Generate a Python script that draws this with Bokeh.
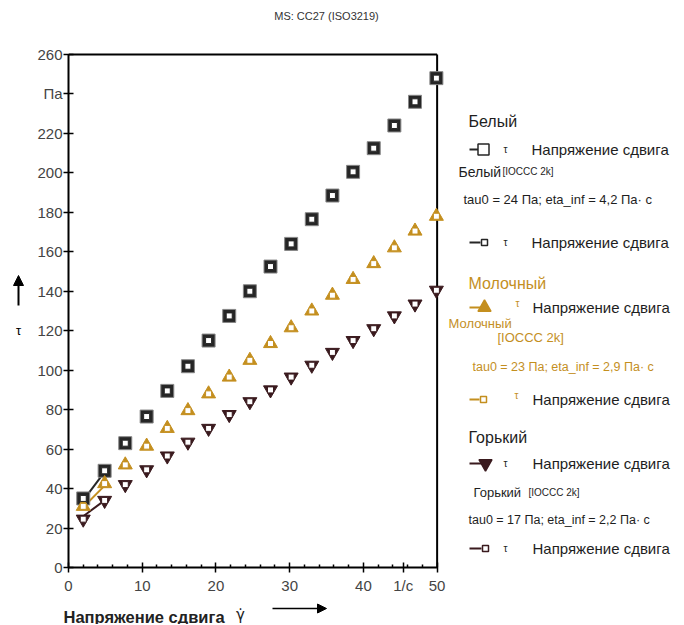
from bokeh.plotting import figure
from bokeh.models import Range1d, Label, Arrow, NormalHead, SingleIntervalTicker, FixedTicker
from bokeh.layouts import row, column
from bokeh.embed import file_html
from bokeh.resources import INLINE

# ---------------- data ----------------
shear_rate = [2.0, 4.9, 7.7, 10.6, 13.4, 16.2, 19.0, 21.8, 24.6, 27.4,
              30.2, 33.0, 35.8, 38.6, 41.4, 44.2, 47.0, 49.9]
tau_white = [35, 49, 63, 76.5, 89.5, 102, 115, 127.5, 140, 152.5,
             164, 176.5, 188.5, 200.5, 212.5, 224, 236, 248]
tau_milk = [31, 42.5, 52, 61.5, 70.5, 79.5, 88, 96.5, 105, 113.5,
            121.5, 130, 138, 146, 154, 162, 170.5, 178]
tau_dark = [24.5, 34, 42, 49.5, 56.5, 63.5, 70.5, 77.5, 84, 90,
            96.5, 102.5, 109, 115, 121, 127.5, 133.5, 140.5]
fit_rate = [2.0, 4.9]
fit_white = [34, 48.5]
fit_milk = [30.5, 41.5]
fit_dark = [26, 34]

series_names = ["Белый", "Молочный", "Горький"]
fit_params = ["tau0 = 24 Па; eta_inf = 4,2 Па· с",
              "tau0 = 23 Па; eta_inf = 2,9 Па· с",
              "tau0 = 17 Па; eta_inf = 2,2 Па· с"]
x_major_ticks = [0, 10, 20, 30, 40, 45.4, 50]
x_minor_ticks = [2, 4, 6, 8, 12, 14, 16, 18, 22, 24, 26, 28, 32, 34, 36, 38, 42, 44, 46, 48]
x_tick_overrides = {45.4: "1/с"}
y_tick_overrides = {240: "Па"}
title_text = "MS: CC27 (ISO3219)"
x_label = "Напряжение сдвига"
y_label = "τ"
row_label = "Напряжение сдвига"

C_WHITE = "#262626"
C_MILK = "#c48f1f"
C_DARK = "#3a1a1e"
FONT = "Liberation Sans"
TXT = "#1e1e1e"

TOP_H = 44
MID_H = 553
BOT_H = 27
LEFT_W = 30
MAIN_W = 418
LEG_W = 684 - LEFT_W - MAIN_W
B_TOP = 6
B_BOT = 30


def panel(w, h, bt=0, bb=0):
    f = figure(width=w, height=h, x_range=Range1d(0, w), y_range=Range1d(h - bb, bt),
               output_backend="svg", toolbar_location=None,
               min_border_left=0, min_border_right=0, min_border_top=bt, min_border_bottom=bb)
    f.outline_line_color = None
    f.xaxis.visible = False
    f.yaxis.visible = False
    f.xgrid.visible = False
    f.ygrid.visible = False
    return f


def label(f, x, y, s, size="15px", color=TXT, font=FONT, style="normal", align="left"):
    f.add_layout(Label(x=x, y=y, text=s, text_font=font, text_font_size=size,
                       text_font_style=style, text_color=color,
                       text_align=align, text_baseline="middle"))


# ---------------- main plot ----------------
p = figure(width=MAIN_W, height=MID_H, x_range=Range1d(0, 51), y_range=Range1d(0, 262),
           output_backend="svg", toolbar_location=None,
           min_border_left=38, min_border_right=4, min_border_top=B_TOP, min_border_bottom=B_BOT)
p.outline_line_color = None
p.xgrid.visible = False
p.ygrid.visible = False

p.xaxis.ticker = FixedTicker(ticks=x_major_ticks, minor_ticks=x_minor_ticks)
p.yaxis.ticker = SingleIntervalTicker(interval=20, num_minor_ticks=0)
p.xaxis.bounds = (0, 50)
p.yaxis.bounds = (0, 260)
for ax in (p.xaxis, p.yaxis):
    ax.axis_line_width = 2
    ax.axis_line_color = "black"
    ax.major_tick_line_width = 1.5
    ax.major_tick_line_color = "black"
    ax.major_tick_in = 5
    ax.major_tick_out = 5
    ax.major_label_text_font = FONT
    ax.major_label_text_font_size = "15px"
    ax.major_label_text_color = "#444444"
p.xaxis.minor_tick_in = 3
p.xaxis.minor_tick_out = 0
p.xaxis.minor_tick_line_width = 1.5
p.xaxis.minor_tick_line_color = "black"
p.yaxis.minor_tick_line_color = None
p.yaxis.major_label_standoff = 1
p.xaxis.major_label_standoff = 4
p.xaxis.major_label_overrides = x_tick_overrides
p.yaxis.major_label_overrides = y_tick_overrides

# frame top / right border
p.segment(x0=[0, 50], y0=[260, 0], x1=[50, 50], y1=[260, 260],
          line_color="black", line_width=2)

# fitted lines
p.line(fit_rate, fit_white, line_color=C_WHITE, line_width=2)
p.line(fit_rate, fit_milk, line_color=C_MILK, line_width=2)
p.line(fit_rate, fit_dark, line_color=C_DARK, line_width=2)

# measured markers
p.scatter(shear_rate, tau_white, marker="square", size=13,
          fill_color=C_WHITE, line_color="#888888", line_width=1)
p.scatter(shear_rate, tau_milk, marker="triangle", size=14,
          fill_color=C_MILK, line_color=C_MILK, line_width=1)
p.scatter(shear_rate, tau_dark, marker="inverted_triangle", size=14,
          fill_color=C_DARK, line_color=C_DARK, line_width=1)
# model markers (small open squares)
for ys, c in ((tau_white, C_WHITE), (tau_milk, C_MILK), (tau_dark, C_DARK)):
    p.scatter(shear_rate, ys, marker="square", size=6,
              fill_color="white", line_color=c, line_width=1)

# ---------------- top strip (title) ----------------
top = panel(684, TOP_H)
label(top, 326, 15, title_text, size="11px", color="#333333", align="center")

# ---------------- left strip (y label) ----------------
left = panel(LEFT_W, MID_H, B_TOP, B_BOT)
label(left, 18, 330 - TOP_H, y_label, size="13px", color="black", align="center")
left.add_layout(Arrow(x_start=18, y_start=305 - TOP_H, x_end=18, y_end=275 - TOP_H,
                      line_width=2, line_color="black",
                      end=NormalHead(size=10, fill_color="black", line_color="black")))

# ---------------- bottom strip (x label) ----------------
bot_y0 = TOP_H + MID_H
bot = panel(684, BOT_H)
label(bot, 63, 616 - bot_y0, x_label, size="16.5px", color="#222222", style="bold")
label(bot, 240, 614 - bot_y0, "γ̇", size="15px", color="#222222", font="DejaVu Sans",
      align="center")
bot.add_layout(Arrow(x_start=272, y_start=608 - bot_y0, x_end=326, y_end=608 - bot_y0,
                     line_width=1.5, line_color="black",
                     end=NormalHead(size=9, fill_color="black", line_color="black")))

# ---------------- legend panel ----------------
q = panel(LEG_W, MID_H, B_TOP, B_BOT)
X0 = MAIN_W + LEFT_W   # page x of legend panel


def lx(px):
    return px - X0


def ly(py):
    return py - TOP_H


def txt(px, py, s, size="15px", color=TXT):
    label(q, lx(px), ly(py), s, size=size, color=color)


def row_item(py, color, marker, msize, fill, pxm, pytau=None, pxtau=503, pxt=531, tau_color=TXT):
    q.line([lx(469), lx(pxm - 4)], [ly(py), ly(py)], line_color=color, line_width=2)
    q.scatter([lx(pxm)], [ly(py)], marker=marker, size=msize, fill_color=fill,
              line_color=color, line_width=1.5)
    txt(pxtau, py if pytau is None else pytau, y_label, size="10px", color=tau_color)
    txt(pxt, py, row_label, size="15px", color=TXT)


# Белый
txt(468, 121, series_names[0], size="16px")
row_item(149, C_WHITE, "square", 11, "white", 483)
txt(458, 171, series_names[0], size="14px")
txt(502, 171, "[IOCCC 2k]", size="10px")
txt(463, 199, fit_params[0], size="13px")
row_item(242, C_WHITE, "square", 6, "white", 484)

# Молочный
txt(468, 283, series_names[1], size="16px", color=C_MILK)
row_item(307, C_MILK, "triangle", 13, C_MILK, 484, pytau=303, pxtau=515, pxt=532, tau_color=C_MILK)
txt(448, 323, series_names[1], size="13px", color=C_MILK)
txt(497, 337, "[IOCCC 2k]", size="13px", color=C_MILK)
txt(472, 366, fit_params[1], size="12.5px", color=C_MILK)
row_item(399, C_MILK, "square", 6, "white", 483, pytau=395, pxtau=514, pxt=532, tau_color=C_MILK)

# Горький
txt(468, 437, series_names[2], size="16px")
row_item(463, C_DARK, "inverted_triangle", 13, C_DARK, 485, pxt=532)
txt(473, 492, series_names[2], size="13px")
txt(528, 492, "[IOCCC 2k]", size="10px")
txt(468, 519, fit_params[2], size="12.5px")
row_item(548, C_DARK, "square", 6, "white", 485, pxt=532)

layout = column(top, row(left, p, q), bot)
open("out.html", "w").write(file_html(layout, INLINE))
